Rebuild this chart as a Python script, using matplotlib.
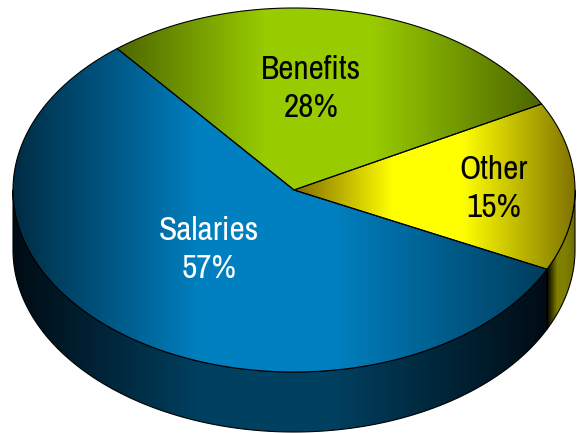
import numpy as np
import matplotlib
matplotlib.use('Agg')
import matplotlib.pyplot as plt
from matplotlib.colors import LinearSegmentedColormap
from matplotlib.patches import Polygon

labels = ['Salaries', 'Benefits', 'Other']
values = [57, 28, 15]
text_colors = ['white', 'black', 'black']
text_pos = [(209, 250), (311, 89), (494, 189)]

# gradient stops, from left to right edge of each piece
face_colors = [['#002c44', '#0080c0', '#0080c0', '#003c5c'],
               ['#4d6600', '#99cc00', '#99cc00', '#4d6600'],
               ['#806c00', '#ffff00', '#ffff00', '#807400']]
side_colors = [['#000c14', '#004060', '#004060', '#000c14'],
               ['#000000', '#000000', '#000000', '#000000'],
               ['#000000', '#808000', '#808000', '#6c6c00']]

cx, cy = 294, 190
rx, ry = 281, 182
depth = 60
start = 129  # degrees, Salaries/Benefits edge


def ell(t, dy=0):
    t = np.radians(t)
    return np.column_stack([cx + rx * np.cos(t), cy - ry * np.sin(t) + dy])


def fill(ax, pts, colors, z):
    # horizontal gradient clipped to the shape, then the black outline
    cmap = LinearSegmentedColormap.from_list('g', list(zip([0, .35, .6, 1], colors)))
    x0, x1 = pts[:, 0].min(), pts[:, 0].max()
    y0, y1 = pts[:, 1].min(), pts[:, 1].max()
    im = ax.imshow(np.linspace(0, 1, 256)[None, :], cmap=cmap, aspect='auto',
                   extent=(x0, x1, y1, y0), zorder=z, interpolation='bilinear')
    p = Polygon(pts, closed=True, fc='none', ec='black', lw=0.8, zorder=z + 1, joinstyle='round')
    ax.add_patch(p)
    im.set_clip_path(p)


fig = plt.figure(figsize=(5.83, 4.33), dpi=100)
ax = fig.add_axes([0, 0, 1, 1])

# angles of the slices: Salaries runs counter-clockwise from start, the rest clockwise
sweeps = np.array(values) / sum(values) * 360
ranges = [(start, start + sweeps[0]),
          (start - sweeps[1], start),
          (start - sweeps[1] - sweeps[2], start - sweeps[1])]

# walls, only the part on the front of the pie
a0, a1 = ranges[0]
t = np.linspace(180, a1, 200)
fill(ax, np.vstack([ell(t), ell(t[::-1], depth)]), side_colors[0], 1)
a0, a1 = ranges[2]
t = np.linspace(a0, 0, 40)
fill(ax, np.vstack([ell(t), ell(t[::-1], depth)]), side_colors[2], 1)

for i in range(3):
    a0, a1 = ranges[i]
    t = np.linspace(a0, a1, 300)
    pts = np.vstack([[cx, cy], ell(t)])
    fill(ax, pts, face_colors[i], 3)
    ax.text(text_pos[i][0], text_pos[i][1], '%s\n%d%%' % (labels[i], values[i]),
            color=text_colors[i], ha='center', va='center', fontsize=24, linespacing=1.3,
            family=['Archivo Narrow', 'Liberation Sans'], zorder=6)

ax.set_xlim(0, 583)
ax.set_ylim(433, 0)
ax.axis('off')
fig.savefig('out.png', dpi=100)
